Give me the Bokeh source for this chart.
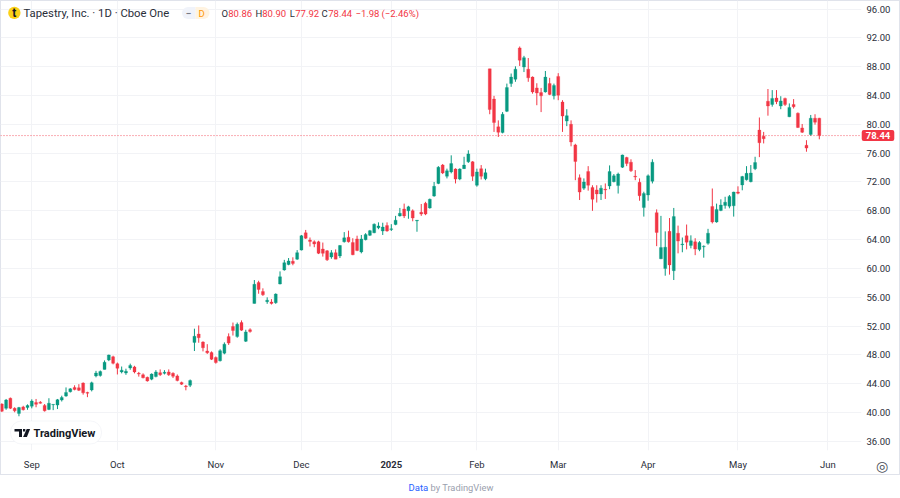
from bokeh.plotting import figure
from bokeh.models import (Range1d, FixedTicker, NumeralTickFormatter, Span, Label, BoxAnnotation,
                          PolyAnnotation, ColumnDataSource)
from bokeh.embed import file_html
from bokeh.resources import INLINE

month_labels = ["Sep", "Oct", "Nov", "Dec", "", "Feb", "Mar", "Apr", "May", "Jun"]
month_bars = [0, 20, 43, 63, 84, 104, 123, 144, 165, 186]
price_ticks = [36, 40, 44, 48, 52, 56, 60, 64, 68, 72, 76, 80, 84, 88, 92, 96]
last_price = 78.44

opens = [41.2, 40.6, 42.0, 40.6, 39.9, 40.8, 40.7,
 40.9, 41.4, 41.45, 41.0, 40.45, 41.1, 41.05, 41.75, 42.3, 42.9,
 43.5, 43.45, 44.1, 42.8, 43.15, 45.1, 45.15, 46.0, 47.3, 47.75,
 46.8, 45.65, 45.5, 46.2, 46.35, 45.45, 45.25, 44.9, 44.65, 45.0,
 45.55, 45.45, 45.65, 45.45, 45.1, 44.2, 43.7, 43.8, 49.75, 50.9,
 49.8, 48.55, 48.35, 47.65, 47.2, 48.25, 50.55, 51.95, 50.55, 52.5, 49.9, 51.5,
 55.15, 58.05, 56.8, 55.4, 55.35, 55.25, 57.85, 59.8, 60.55, 61.0,
 61.3, 62.55, 64.95, 63.95, 63.7, 63.7, 62.7, 62.45, 61.6, 62.2,
 61.75, 63.7, 64.35, 63.6, 64.1, 62.3, 64.0, 64.6, 64.95, 65.65,
 65.2, 65.95, 65.4, 66.1, 67.3, 68.25, 68.0, 68.0, 66.6, 67.8,
 69.05, 68.4, 70.05, 71.8, 74.35, 72.8, 73.4, 73.8, 72.4, 73.85,
 74.8, 74.8, 71.55, 73.85, 72.45,
 87.7, 83.5, 79.65, 78.85, 81.8, 85.65, 86.25, 90.6, 87.95, 87.65,
 86.55, 85.05, 84.4, 84.5, 85.65, 83.95, 86.65, 83.1, 80.45, 80.0,
 77.15, 72.6, 71.15, 73.45, 71.25, 70.9, 70.35, 71.0, 71.45, 72.05,
 71.5, 74.05, 75.4, 74.75, 72.8, 71.95, 68.45, 70.2, 72.1,
 67.75, 61.35, 60.0, 65.15, 59.7, 64.9, 63.3, 64.55, 63.2, 63.7,
 62.65, 63.0, 63.5, 68.6, 66.45, 68.05, 68.75, 68.65, 68.7, 70.6,
 71.6, 72.3, 72.05, 73.85, 79.2, 78.35, 83.2, 82.75, 83.65, 82.55,
 83.6, 81.05, 82.75, 81.55, 79.5, 77.1, 78.6, 80.85, 80.86]

highs = [41.3, 41.9, 42.1, 40.75, 40.8, 40.95, 41.15,
 41.85, 41.9, 41.6, 41.2, 42.0, 41.15, 41.9, 42.35, 43.5, 43.4,
 43.8, 43.95, 44.2, 42.9, 44.3, 45.8, 45.85, 47.25, 48.05, 47.9,
 46.95, 46.4, 46.1, 46.8, 46.5, 45.65, 45.45, 45.0, 45.45, 45.9,
 46.0, 45.9, 46.0, 45.6, 45.3, 44.3, 43.85, 44.6, 51.65, 52.1,
 49.9, 49.5, 48.5, 47.8, 48.8, 49.75, 51.0, 52.5, 52.5, 52.8, 51.5, 51.7,
 58.4, 58.3, 57.25, 56.0, 55.75, 56.55, 59.6, 61.2, 61.45, 61.55,
 62.55, 64.65, 65.35, 64.3, 63.9, 63.85, 63.6, 62.55, 62.55, 62.65,
 63.25, 65.05, 65.25, 64.2, 64.55, 64.65, 64.9, 65.35, 66.25, 66.4,
 66.35, 66.4, 66.15, 67.3, 68.4, 69.0, 68.7, 68.2, 66.7, 68.95,
 69.25, 69.7, 72.0, 74.2, 74.5, 73.85, 75.7, 73.9, 73.9, 75.5,
 76.4, 74.9, 73.85, 74.35, 73.85,
 87.7, 83.95, 80.55, 81.7, 85.65, 87.05, 88.05, 90.8, 89.5, 89.2,
 86.65, 85.7, 85.05, 87.4, 86.45, 85.65, 87.1, 83.35, 82.1, 80.55,
 77.3, 73.05, 72.5, 74.2, 71.55, 71.55, 71.55, 71.8, 74.3, 73.1,
 73.3, 75.8, 75.5, 75.15, 73.65, 72.5, 70.65, 73.05, 75.15,
 68.2, 67.3, 65.15, 67.0, 68.4, 65.95, 64.3, 66.1, 64.6, 64.2,
 63.8, 63.2, 65.5, 71.1, 69.0, 69.6, 69.95, 70.2, 70.65, 71.4,
 72.85, 74.2, 74.35, 75.5, 80.95, 78.95, 84.9, 84.75, 84.75, 83.9,
 83.7, 82.9, 83.5, 81.65, 80.05, 77.8, 81.3, 81.4, 80.90]

lows = [40.1, 40.4, 40.5, 40.05, 39.5, 40.3, 40.4,
 40.6, 40.75, 41.25, 40.15, 40.35, 40.35, 40.5, 41.55, 42.2, 42.8,
 43.1, 43.0, 42.5, 42.15, 42.95, 44.9, 45.0, 46.0, 47.15, 46.7,
 45.3, 45.45, 45.25, 45.95, 45.45, 45.0, 44.75, 44.3, 44.5, 44.9,
 45.1, 45.3, 45.1, 44.8, 44.35, 43.85, 43.1, 43.55, 48.55, 49.7,
 48.5, 48.15, 47.3, 46.8, 47.1, 48.1, 49.4, 50.7, 50.4, 51.35, 49.8, 51.1,
 55.15, 56.5, 56.2, 55.1, 55.0, 55.1, 57.8, 59.7, 60.45, 60.45,
 61.2, 62.5, 64.1, 63.05, 62.95, 62.0, 61.65, 61.05, 61.35, 61.3,
 61.45, 63.6, 63.6, 61.85, 62.4, 62.1, 63.9, 64.5, 64.9, 65.45,
 64.65, 65.1, 65.2, 66.0, 67.2, 67.0, 66.9, 66.55, 65.1, 67.3,
 67.4, 68.3, 69.95, 71.7, 73.1, 72.5, 73.2, 71.8, 72.25, 73.8,
 74.65, 72.15, 71.35, 72.35, 72.25,
 81.4, 78.95, 78.25, 78.75, 81.7, 85.2, 85.9, 88.1, 87.25, 85.9,
 84.25, 82.65, 81.7, 84.4, 84.05, 83.45, 83.35, 78.95, 79.75, 76.95,
 72.25, 69.5, 70.9, 70.8, 68.0, 69.15, 69.5, 69.65, 71.0, 71.95,
 70.4, 73.95, 74.2, 73.4, 72.25, 69.4, 67.2, 69.4, 71.8,
 63.1, 61.3, 59.0, 59.15, 58.4, 62.1, 62.25, 62.65, 62.8, 61.85,
 62.4, 61.5, 63.3, 66.25, 66.35, 67.95, 68.3, 68.35, 67.2, 70.3,
 70.85, 72.2, 71.95, 73.65, 75.45, 77.35, 81.2, 82.45, 82.8, 82.1,
 82.55, 81.0, 82.2, 79.5, 78.8, 76.2, 78.4, 79.95, 77.92]

closes = [40.2, 41.75, 40.6, 40.25, 40.7, 40.4, 41.0,
 41.6, 41.15, 41.3, 40.25, 41.3, 41.15, 41.8, 42.1, 42.8, 43.3,
 43.2, 43.1, 42.75, 42.7, 44.15, 45.5, 45.7, 47.0, 48.0, 46.85,
 46.15, 45.9, 45.75, 46.55, 45.65, 45.35, 44.85, 44.4, 45.35, 45.65,
 45.25, 45.6, 45.25, 45.05, 44.45, 43.95, 43.6, 44.45, 50.6, 50.4,
 49.0, 48.3, 47.4, 46.95, 48.6, 49.5, 49.65, 51.4, 52.25, 51.45, 51.2, 51.25,
 57.8, 57.1, 56.35, 55.6, 55.15, 56.45, 58.85, 60.8, 61.05, 60.7,
 62.2, 64.55, 64.2, 63.75, 63.4, 62.1, 62.1, 61.2, 62.2, 61.3,
 63.2, 64.25, 63.7, 61.9, 62.5, 64.1, 64.7, 65.25, 66.15, 65.9,
 65.75, 65.2, 65.5, 66.7, 67.65, 67.3, 68.55, 67.0, 66.7, 67.55,
 67.55, 69.6, 71.4, 74.05, 73.25, 73.55, 74.55, 72.4, 73.8, 74.35,
 75.9, 72.8, 73.4, 72.8, 73.3,
 82.05, 80.25, 78.9, 81.4, 85.1, 86.55, 87.65, 88.9, 89.25, 86.45,
 84.5, 84.35, 83.95, 86.55, 84.15, 85.4, 84.05, 81.15, 81.2, 77.55,
 74.85, 70.6, 72.0, 71.55, 69.6, 70.35, 71.15, 70.9, 73.45, 72.85,
 73.1, 75.75, 74.55, 73.55, 72.7, 70.1, 70.4, 72.85, 74.75,
 65.0, 62.9, 62.95, 60.5, 67.2, 63.8, 63.4, 63.65, 63.85, 62.7,
 63.6, 63.1, 64.9, 66.45, 68.2, 68.8, 69.2, 70.0, 70.6, 70.45,
 72.75, 73.2, 73.25, 74.7, 77.45, 78.0, 82.55, 83.6, 83.15, 83.25,
 82.75, 82.35, 82.45, 79.55, 78.9, 76.7, 80.85, 80.3, 78.44]

UP, DOWN = "#089981", "#f23645"
FONT = "Roboto"
INK = "#2a2e39"
EDGE = "#e0e3eb"

bars = list(range(-7, len(opens) - 7))
src = ColumnDataSource(dict(
    bar=bars, open=opens, high=highs, low=lows, close=closes,
    top=[max(a, b) for a, b in zip(opens, closes)],
    bottom=[min(a, b) for a, b in zip(opens, closes)],
    color=[UP if b >= a else DOWN for a, b in zip(opens, closes)],
))

p = figure(frame_width=861, frame_height=450, output_backend="svg", toolbar_location=None,
           x_range=Range1d(-7.31, 193.86), y_range=Range1d(34.75, 97.18),
           x_axis_location="below", y_axis_location="right",
           min_border_left=0, min_border_top=0, min_border_right=39, min_border_bottom=48,
           background_fill_color=None, border_fill_color=None, outline_line_color=None)
# widget border sits behind the transparent canvas
line = f"linear-gradient({EDGE},{EDGE})"
p.styles = {
    "position": "absolute", "left": "0", "top": "0",
    "background": (f"{line} 0 474px/900px 1px no-repeat, {line} 0 0/900px 1px no-repeat, "
                   f"{line} 0 0/1px 475px no-repeat, {line} 899px 0/1px 475px no-repeat, white"),
}

ax = p.xaxis[0]
ax.ticker = FixedTicker(ticks=month_bars)
ax.major_label_overrides = dict(zip(month_bars, month_labels))
ay = p.yaxis[0]
ay.ticker = FixedTicker(ticks=price_ticks)
ay.formatter = NumeralTickFormatter(format="0.00")
for a in (ax, ay):
    a.axis_line_color = None
    a.major_tick_line_color = None
    a.minor_tick_line_color = None
    a.major_tick_in = 0
    a.major_tick_out = 0
    a.minor_tick_in = 0
    a.minor_tick_out = 0
    a.major_label_text_font = FONT
    a.major_label_text_font_size = "9.5px"
    a.major_label_text_color = INK
ax.major_label_standoff = 8
ay.major_label_standoff = 5
p.xgrid.grid_line_color = "#f2f3f6"
p.ygrid.grid_line_color = "#f2f3f6"

p.segment(x0="bar", x1="bar", y0="low", y1="high", color="color", line_width=1, source=src)
p.vbar(x="bar", width=0.7, top="top", bottom="bottom", fill_color="color", line_color="color",
       line_width=0.3, source=src)

p.add_layout(Span(location=last_price, dimension="width", line_color=DOWN, line_width=1,
                  line_dash=[1, 2], line_alpha=0.8))

def text(s, x, y, size=9.5, color=INK, style="normal", align="left", font=FONT, place=None, **kw):
    lab = Label(x=x, y=y, x_units="canvas", y_units="canvas", text=s, text_font=font,
                text_font_size=f"{size}px", text_color=color, text_font_style=style,
                text_align=align, text_baseline="middle", **kw)
    if place:
        p.add_layout(lab, place)
    else:
        p.add_layout(lab)
    return lab

# bold year label on the time axis
p.add_layout(Label(x=84, y=464, x_units="data", y_units="canvas", text="2025", text_font=FONT,
                   text_font_size="9.5px", text_font_style="bold", text_color=INK,
                   text_align="center", text_baseline="middle"), "below")

# last price tag
p.add_layout(Label(x=877.5, y=last_price, x_units="canvas", y_units="data", text="78.44",
                   text_font=FONT, text_font_size="9.5px", text_font_style="bold",
                   text_color="white", text_align="center", text_baseline="middle",
                   background_fill_color=DOWN, padding=(4, 2), border_radius=2), "right")

# header
def round_box(l, r, t, b, fill, line=None, radius=0):
    p.add_layout(BoxAnnotation(left=l, right=r, top=t, bottom=b, left_units="canvas", right_units="canvas",
                               top_units="canvas", bottom_units="canvas", fill_color=fill, fill_alpha=1,
                               line_color=line, line_width=1, border_radius=radius))

round_box(7.7, 20, 6.2, 18.5, "#fcd116", radius=6)
text("t", 13.8, 12.5, size=12, color="#131722", style="bold", align="center")
text("Tapestry, Inc. · 1D · Cboe One", 23, 12.5, size=11.3)
round_box(181.5, 195, 6.5, 18.5, "#f0f3fa", radius={"top_left": 6, "bottom_left": 6, "top_right": 0, "bottom_right": 0})
round_box(195, 209, 6.5, 18.5, "#fff3e0", radius={"top_left": 0, "bottom_left": 0, "top_right": 6, "bottom_right": 6})
text("−", 188, 12.5, size=10, color="#787b86", style="bold", align="center")
text("D", 201, 12.5, size=9.5, color="#ff9800", align="center")
for s, x, col in [("O", 221, INK), ("80.86", 227.7, DOWN), ("H", 255, INK), ("80.90", 261.7, DOWN),
                  ("L", 289.3, INK), ("77.92", 294.7, DOWN), ("C", 321, INK), ("78.44", 327.7, DOWN),
                  ("−1.98", 355, DOWN), ("(−2.46%)", 381, DOWN)]:
    text(s, x, 12.5, size=9.5, color=col)

# TradingView badge
round_box(10, 101, 420.5, 443.5, "white", line="#dfe2ea", radius=11)
text("TradingView", 33, 432.5, size=11, color="#131722", style="bold")
p.add_layout(PolyAnnotation(xs=[14, 21.5, 21.5, 18.5, 18.5, 16.5, 16.5, 14], ys=[428.5, 428.5, 436.5, 436.5, 431, 431, 431, 431],
                            xs_units="canvas", ys_units="canvas", fill_color="#131722", fill_alpha=1, line_color=None))
p.add_layout(PolyAnnotation(xs=[26.2, 29.6, 26.4, 22.6], ys=[428.5, 428.5, 436.5, 436.5],
                            xs_units="canvas", ys_units="canvas", fill_color="#131722", fill_alpha=1, line_color=None))
p.add_layout(PolyAnnotation(xs=[22.5, 24.8, 24.8, 22.5], ys=[428.6, 428.6, 431, 431],
                            xs_units="canvas", ys_units="canvas", fill_color="#131722", fill_alpha=1, line_color=None))

# settings icon
text("◎", 881.5, 465, size=14, color="#4a4e59", align="center", font="DejaVu Sans", place="below")

# footer
text("Data", 408, 486.5, size=9.5, color="#2962ff", place="below")
text("by TradingView", 430, 486.5, size=9.3, color="#9aa0ae", place="below")

open("out.html", "w").write(file_html(p, INLINE))
